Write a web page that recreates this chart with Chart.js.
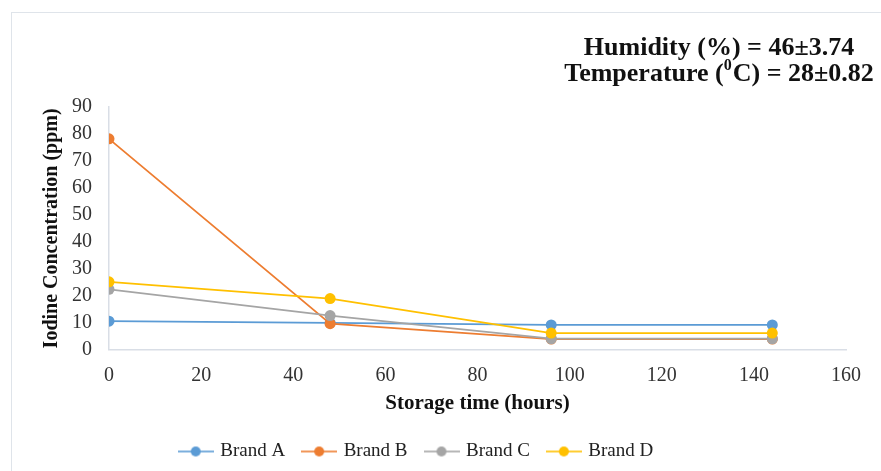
<!DOCTYPE html>
<html>
<head>
<meta charset="utf-8">
<script src="https://cdn.jsdelivr.net/npm/chart.js@4/dist/chart.umd.min.js"></script>
<style>
    html, body { margin: 0; padding: 0; background: #fff; }
    #wrap { position: relative; width: 881px; height: 471px; overflow: hidden; }
    #frame { position: absolute; left: 11px; top: 12px; right: -10px; bottom: -10px;
             border-left: 1px solid #dfe4ea; border-top: 1px solid #dfe4ea; }
    #graficoYodo { position: absolute; left: 0; top: 0; }
</style>
</head>
<body>
<div id="wrap">
    <div id="frame"></div>
    <canvas id="graficoYodo" width="881" height="471"></canvas>
</div>
<script>
// datos
const horas = [0, 48, 96, 144];
const marcaA = [10.6, 10.0, 9.2, 9.2];
const marcaB = [78.2, 9.7, 4.0, 4.0];
const marcaC = [22.4, 12.7, 4.1, 4.1];
const marcaD = [25.2, 19.0, 6.2, 6.2];
const nombres = ['Brand A', 'Brand B', 'Brand C', 'Brand D'];
const colores = ['#5B9BD5', '#ED7D31', '#A5A5A5', '#FFC000'];
// segunda nota en partes: texto, superindice, texto
const nota1 = 'Humidity (%) = 46±3.74';
const nota2 = ['Temperature (', '0', 'C) = 28±0.82'];

const serif = "'Liberation Serif', 'Times New Roman', serif";
const series = [marcaA, marcaB, marcaC, marcaD];

// marcador de leyenda: linea con punto
const marcador = (color) => {
    const c = document.createElement('canvas');
    c.width = 36;
    c.height = 12;
    const g = c.getContext('2d');
    g.strokeStyle = color;
    g.globalAlpha = 0.8;
    g.lineWidth = 2;
    g.beginPath();
    g.moveTo(0, 6);
    g.lineTo(36, 6);
    g.stroke();
    g.globalAlpha = 1;
    g.fillStyle = color;
    g.beginPath();
    g.arc(18, 6, 5, 0, Math.PI * 2);
    g.fill();
    return c;
};

const datasets = series.map((vals, i) => ({
    label: nombres[i],
    data: vals.map((v, j) => ({ x: horas[j], y: v })),
    borderColor: colores[i],
    backgroundColor: colores[i],
    borderWidth: 1.75,
    pointRadius: 5.5,
    pointHoverRadius: 5.5,
    pointBorderWidth: 0,
    pointStyle: 'circle',
    order: series.length - i // como Excel: la ultima serie encima
}));

const notaPlugin = {
    id: 'nota',
    afterLayout(chart) {
        // leyenda algo desplazada a la izquierda como en la figura
        chart.legend.left -= 21;
        chart.legend.right -= 21;
    },
    afterDraw(chart) {
        const ctx = chart.ctx;
        const grande = "bold 26px " + serif;
        const chica = "bold 16px " + serif;
        ctx.save();
        ctx.fillStyle = '#111';
        ctx.textBaseline = 'middle';
        ctx.font = grande;
        ctx.textAlign = 'center';
        ctx.fillText(nota1, 719, 48);

        // linea 2 con el 0 en superindice
        ctx.textAlign = 'left';
        const w0 = ctx.measureText(nota2[0]).width;
        const w2 = ctx.measureText(nota2[2]).width;
        ctx.font = chica;
        const w1 = ctx.measureText(nota2[1]).width + 1;
        let x = 719 - (w0 + w1 + w2) / 2;
        ctx.font = grande;
        ctx.fillText(nota2[0], x, 74);
        x += w0;
        ctx.font = chica;
        ctx.fillText(nota2[1], x, 66);
        x += w1;
        ctx.font = grande;
        ctx.fillText(nota2[2], x, 74);
        ctx.restore();
    }
};

const ctx = document.getElementById('graficoYodo').getContext('2d');
new Chart(ctx, {
    type: 'line',
    data: { datasets: datasets },
    plugins: [notaPlugin],
    options: {
        responsive: false,
        animation: false,
        layout: { padding: { top: 107, left: 30, right: 35, bottom: 0 } },
        plugins: {
            tooltip: { enabled: false },
            legend: {
                position: 'bottom',
                labels: {
                    usePointStyle: true,
                    pointStyleWidth: 30,
                    padding: 19,
                    color: '#222',
                    font: { family: serif, size: 19 },
                    sort: (a, b) => a.datasetIndex - b.datasetIndex,
                    generateLabels: (chart) => {
                        const items = Chart.defaults.plugins.legend.labels.generateLabels(chart);
                        items.forEach(it => { it.pointStyle = marcador(colores[it.datasetIndex]); });
                        return items;
                    }
                }
            }
        },
        scales: {
            x: {
                type: 'linear',
                min: 0,
                max: 160,
                ticks: { stepSize: 20, padding: 14, color: '#333', font: { family: serif, size: 20 } },
                grid: { display: false, drawTicks: false },
                border: { display: true, color: '#d9dee6', width: 1.5 },
                title: {
                    display: true,
                    text: 'Storage time (hours)',
                    color: '#111',
                    font: { family: serif, size: 21, weight: 'bold' },
                    padding: { top: -11, bottom: 7 }
                }
            },
            y: {
                min: 0,
                max: 90,
                ticks: { stepSize: 10, autoSkip: false, padding: 17, color: '#333', font: { family: serif, size: 20 } },
                grid: { display: false, drawTicks: false },
                border: { display: true, color: '#d9dee6', width: 1.5 },
                title: {
                    display: true,
                    text: 'Iodine Concentration (ppm)',
                    color: '#111',
                    font: { family: serif, size: 20, weight: 'bold' },
                    padding: { top: 10, bottom: -9 }
                }
            }
        }
    }
});
</script>
</body>
</html>
